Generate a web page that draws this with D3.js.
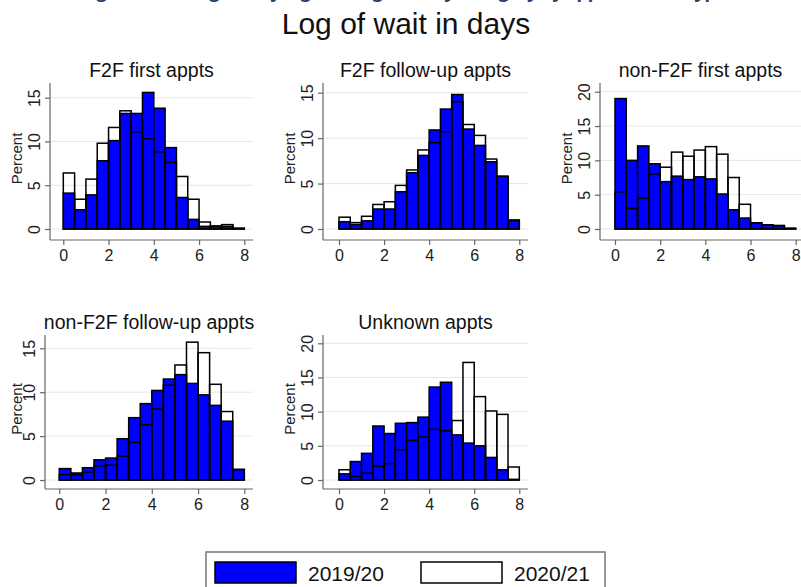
<!DOCTYPE html>
<html>
<head>
<meta charset="utf-8">
<script src="https://cdn.jsdelivr.net/npm/d3@7"></script>
<style>
  html, body { margin: 0; padding: 0; background: #fff; }
  svg { display: block; font-family: "Liberation Sans", Arial, sans-serif; }
</style>
</head>
<body>
<svg id="chart" width="801" height="587"></svg>
<script>
// Histogram bins of log(wait in days), width 0.5
const binStarts = [0, 0.5, 1, 1.5, 2, 2.5, 3, 3.5, 4, 4.5, 5, 5.5, 6, 6.5, 7, 7.5];
const binWidth = 0.5;

const panelTitles = ["F2F first appts", "F2F follow-up appts", "non-F2F first appts",
                     "non-F2F follow-up appts", "Unknown appts"];
const seriesNames = ["2019/20", "2020/21"];

// Percent of appointments per bin, 2019/20
const f2fFirst1920    = [4.1, 2.2, 3.9, 7.8, 10.1, 13.2, 13.2, 15.6, 13.8, 9.3, 3.6, 1.1, 0.3, 0.35, 0.3, 0.05];
const f2fFollow1920   = [0.8, 0.5, 0.9, 2.2, 2.2, 4.1, 6.2, 8.1, 10.9, 13.2, 14.8, 11.0, 9.2, 7.4, 5.8, 1.0];
const nonF2fFirst1920 = [19.0, 10.0, 12.1, 9.5, 6.9, 7.7, 7.2, 7.6, 7.3, 5.1, 2.8, 1.6, 0.9, 0.6, 0.5, 0.1];
const nonF2fFollow1920= [1.3, 0.8, 1.4, 2.3, 2.5, 4.7, 7.1, 8.7, 10.2, 11.5, 12.0, 11.0, 9.7, 8.5, 6.7, 1.2];
const unknown1920     = [0.9, 2.7, 3.9, 7.9, 6.8, 8.3, 8.4, 9.2, 13.6, 14.3, 6.6, 5.4, 5.0, 3.3, 1.5, 0.1];

// Percent of appointments per bin, 2020/21
const f2fFirst2021    = [6.4, 3.4, 5.7, 9.8, 11.6, 13.5, 11.1, 10.3, 8.8, 7.6, 6.0, 3.4, 0.8, 0.3, 0.5, 0.1];
const f2fFollow2021   = [1.3, 0.7, 1.4, 2.7, 3.0, 4.8, 6.5, 8.7, 9.5, 10.7, 14.0, 11.5, 10.3, 7.7, 5.8, 0.9];
const nonF2fFirst2021 = [5.4, 3.0, 4.5, 8.0, 9.0, 11.2, 10.6, 11.5, 12.0, 10.9, 7.5, 3.6, 0.9, 0.6, 0.5, 0.1];
const nonF2fFollow2021= [0.6, 0.6, 0.9, 1.6, 1.7, 2.7, 4.3, 6.3, 8.1, 10.8, 13.1, 15.7, 14.5, 10.9, 7.8, 1.2];
const unknown2021     = [1.5, 0.5, 1.0, 2.0, 2.4, 4.4, 5.8, 6.3, 7.4, 7.2, 8.7, 17.2, 12.2, 10.1, 9.6, 1.9];

const xTicks = [0, 2, 4, 6, 8];
const yTicks15 = [0, 5, 10, 15];
const yTicks20 = [0, 5, 10, 15, 20];

const panelData = [
  { a: f2fFirst1920,     b: f2fFirst2021,     yTicks: yTicks15 },
  { a: f2fFollow1920,    b: f2fFollow2021,    yTicks: yTicks15 },
  { a: nonF2fFirst1920,  b: nonF2fFirst2021,  yTicks: yTicks20 },
  { a: nonF2fFollow1920, b: nonF2fFollow2021, yTicks: yTicks15 },
  { a: unknown1920,      b: unknown2021,      yTicks: yTicks20 }
];

// Plot-region geometry for each panel (axis edges and where the end ticks sit)
const layout = [
  { ax: 50,  right: 253, top: 83,  bottom: 240, x0: 63.3,  x8: 244.3, y0: 229, yTop: 97.7 },
  { ax: 323, right: 528, top: 83,  bottom: 240, x0: 339,   x8: 519.3, y0: 229, yTop: 92.7 },
  { ax: 600, right: 801, top: 83,  bottom: 240, x0: 615,   x8: 795.7, y0: 229, yTop: 91.7 },
  { ax: 45,  right: 253, top: 335, bottom: 489, x0: 59.3,  x8: 244.3, y0: 480, yTop: 348.3 },
  { ax: 323, right: 528, top: 335, bottom: 489, x0: 339,   x8: 519.3, y0: 480, yTop: 343.3 }
];

const BLUE = "#0000ff";
const svg = d3.select("#chart");

// Caption running off the top edge of the figure
svg.append("text")
  .attr("x", 405).attr("y", -2)
  .attr("text-anchor", "middle")
  .attr("font-family", "'Open Sans', sans-serif")
  .attr("font-style", "italic").attr("font-weight", "bold")
  .attr("font-size", 17).attr("fill", "#2b3f6b")
  .attr("textLength", 646).attr("lengthAdjust", "spacingAndGlyphs")
  .text("Figure 5: Histogram of log waiting time by category of appointment type");

// Overall title
svg.append("text")
  .attr("x", 406).attr("y", 34)
  .attr("text-anchor", "middle")
  .attr("font-size", 30).attr("fill", "#111")
  .text("Log of wait in days");

panelData.forEach((d, i) => {
  const L = layout[i];
  const g = svg.append("g");
  const x = d3.scaleLinear().domain([0, 8]).range([L.x0, L.x8]);
  const yMax = d.yTicks[d.yTicks.length - 1];
  const y = d3.scaleLinear().domain([0, yMax]).range([L.y0, L.yTop]);

  // horizontal gridlines
  g.selectAll("line.grid").data(d.yTicks).join("line")
    .attr("x1", L.ax).attr("x2", L.right)
    .attr("y1", v => y(v)).attr("y2", v => y(v))
    .attr("stroke", "#e6e6e6").attr("stroke-width", 1);

  // 2019/20 filled bars
  g.selectAll("rect.a").data(d.a).join("rect")
    .attr("x", (v, j) => x(binStarts[j]))
    .attr("width", (v, j) => x(binStarts[j] + binWidth) - x(binStarts[j]))
    .attr("y", v => y(v))
    .attr("height", v => y(0) - y(v))
    .attr("fill", BLUE).attr("stroke", "#000").attr("stroke-width", 1.5);

  // 2020/21 outline bars
  g.selectAll("rect.b").data(d.b).join("rect")
    .attr("x", (v, j) => x(binStarts[j]))
    .attr("width", (v, j) => x(binStarts[j] + binWidth) - x(binStarts[j]))
    .attr("y", v => y(v))
    .attr("height", v => y(0) - y(v))
    .attr("fill", "none").attr("stroke", "#000").attr("stroke-width", 1.5);

  // y axis
  const yAxis = d3.axisLeft(y).tickValues(d.yTicks).tickSize(5).tickPadding(4);
  const ya = g.append("g").attr("transform", `translate(${L.ax},0)`).call(yAxis);
  ya.select(".domain").remove();
  ya.append("line").attr("x1", 0).attr("x2", 0).attr("y1", L.top).attr("y2", L.bottom)
    .attr("stroke", "#666").attr("stroke-width", 1.2);
  ya.selectAll(".tick line").attr("stroke", "#666").attr("stroke-width", 1.2);
  ya.selectAll(".tick text")
    .attr("x", null).attr("dy", null)
    .attr("transform", "translate(-10,0) rotate(-90)")
    .attr("text-anchor", "middle")
    .attr("font-size", 16).attr("fill", "#222")
    .attr("font-family", "'Liberation Sans', Arial, sans-serif");

  // x axis
  const xAxis = d3.axisBottom(x).tickValues(xTicks).tickSize(5).tickPadding(5);
  const xa = g.append("g").attr("transform", `translate(0,${L.bottom})`).call(xAxis);
  xa.select(".domain").remove();
  xa.append("line").attr("x1", L.ax).attr("x2", L.right).attr("y1", 0).attr("y2", 0)
    .attr("stroke", "#666").attr("stroke-width", 1.2);
  xa.selectAll(".tick line").attr("stroke", "#666").attr("stroke-width", 1.2);
  xa.selectAll(".tick text")
    .attr("font-size", 16).attr("fill", "#222")
    .attr("font-family", "'Liberation Sans', Arial, sans-serif");

  // y axis title
  const midY = (L.top + L.bottom) / 2 - 3;
  const pX = i === 3 ? L.ax - 23 : L.ax - 28;
  g.append("text")
    .attr("transform", `translate(${pX},${midY}) rotate(-90)`)
    .attr("text-anchor", "middle")
    .attr("font-size", 15).attr("fill", "#222")
    .text("Percent");

  // panel title
  g.append("text")
    .attr("x", (L.ax + L.right) / 2).attr("y", L.top - 6)
    .attr("text-anchor", "middle")
    .attr("font-size", 19.5).attr("fill", "#111")
    .text(panelTitles[i]);
});

// Legend
const lg = svg.append("g");
lg.append("rect").attr("x", 206).attr("y", 552).attr("width", 399).attr("height", 50)
  .attr("fill", "#fff").attr("stroke", "#777").attr("stroke-width", 1.5);
const legendItems = [
  { name: seriesNames[0], fill: BLUE, sx: 215, tx: 308 },
  { name: seriesNames[1], fill: "#fff", sx: 421, tx: 514 }
];
legendItems.forEach(it => {
  lg.append("rect").attr("x", it.sx).attr("y", 562).attr("width", 81).attr("height", 21)
    .attr("fill", it.fill).attr("stroke", "#000").attr("stroke-width", 1.5);
  lg.append("text").attr("x", it.tx).attr("y", 581)
    .attr("font-size", 21).attr("fill", "#111").text(it.name);
});
</script>
</body>
</html>
